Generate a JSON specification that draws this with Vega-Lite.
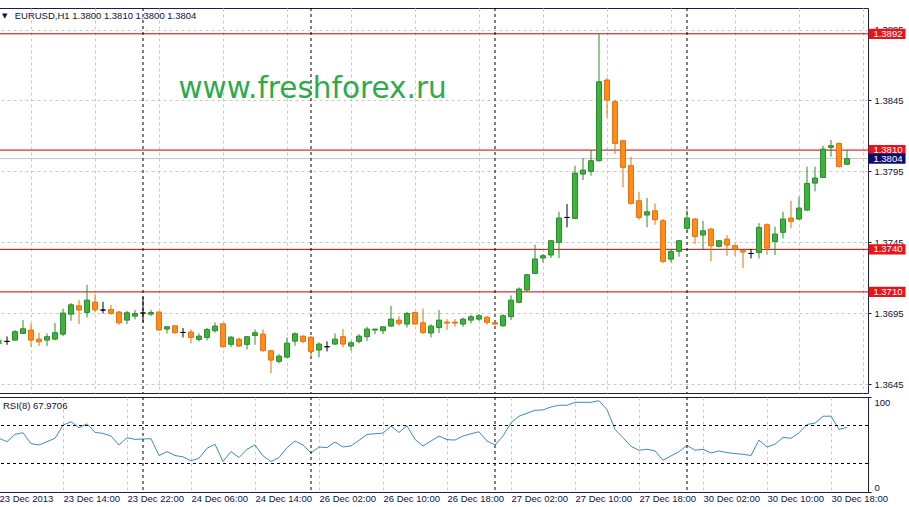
{
  "$schema": "https://vega.github.io/schema/vega-lite/v6.json",
  "padding": {"left": -2, "top": 7, "right": 0, "bottom": 0},
  "background": "white",
  "spacing": 2,
  "config": {
    "view": {"stroke": "#1c1c50", "strokeWidth": 1},
    "axis": {
      "labelFont": "Liberation Sans",
      "labelFontSize": 9.5,
      "labelColor": "#101040",
      "labelOverlap": false,
      "domain": false,
      "tickColor": "#101040",
      "tickSize": 3,
      "gridColor": "#c8c8c8",
      "gridDash": [3, 3],
      "gridWidth": 1,
      "title": null
    }
  },
  "datasets": {
    "bars": [
      {"k":0,"o":1.36732,"h":1.36770,"l":1.36713,"c":1.36763,"rsi":56.5},
      {"k":1,"o":1.36751,"h":1.36786,"l":1.36727,"c":1.36751,"rsi":53.0},
      {"k":2,"o":1.36760,"h":1.36831,"l":1.36756,"c":1.36819,"rsi":60.6},
      {"k":3,"o":1.36807,"h":1.36901,"l":1.36802,"c":1.36840,"rsi":62.4},
      {"k":4,"o":1.36831,"h":1.36878,"l":1.36713,"c":1.36760,"rsi":50.9},
      {"k":5,"o":1.36767,"h":1.36812,"l":1.36718,"c":1.36748,"rsi":49.5},
      {"k":6,"o":1.36760,"h":1.36807,"l":1.36718,"c":1.36784,"rsi":53.0},
      {"k":7,"o":1.36767,"h":1.36880,"l":1.36760,"c":1.36812,"rsi":56.5},
      {"k":8,"o":1.36802,"h":1.36983,"l":1.36788,"c":1.36951,"rsi":70.4},
      {"k":9,"o":1.36943,"h":1.37021,"l":1.36896,"c":1.37009,"rsi":73.9},
      {"k":10,"o":1.37002,"h":1.37042,"l":1.36873,"c":1.36972,"rsi":67.6},
      {"k":11,"o":1.36955,"h":1.37150,"l":1.36920,"c":1.37042,"rsi":71.8},
      {"k":12,"o":1.37028,"h":1.37084,"l":1.36955,"c":1.36974,"rsi":62.7},
      {"k":13,"o":1.36972,"h":1.37030,"l":1.36948,"c":1.36972,"rsi":61.7},
      {"k":14,"o":1.36976,"h":1.37007,"l":1.36941,"c":1.36948,"rsi":58.9},
      {"k":15,"o":1.36958,"h":1.36967,"l":1.36868,"c":1.36882,"rsi":49.5},
      {"k":16,"o":1.36901,"h":1.36967,"l":1.36873,"c":1.36953,"rsi":57.1},
      {"k":17,"o":1.36929,"h":1.36972,"l":1.36906,"c":1.36948,"rsi":55.4},
      {"k":18,"o":1.36951,"h":1.37066,"l":1.36885,"c":1.36951,"rsi":55.8},
      {"k":19,"o":1.36943,"h":1.36974,"l":1.36929,"c":1.36955,"rsi":56.1},
      {"k":20,"o":1.36958,"h":1.36962,"l":1.36826,"c":1.36831,"rsi":38.4},
      {"k":21,"o":1.36838,"h":1.36859,"l":1.36807,"c":1.36854,"rsi":42.5},
      {"k":22,"o":1.36861,"h":1.36861,"l":1.36807,"c":1.36812,"rsi":38.4},
      {"k":23,"o":1.36814,"h":1.36845,"l":1.36779,"c":1.36814,"rsi":37.0},
      {"k":24,"o":1.36817,"h":1.36835,"l":1.36737,"c":1.36779,"rsi":32.8},
      {"k":25,"o":1.36765,"h":1.36807,"l":1.36751,"c":1.36788,"rsi":35.6},
      {"k":26,"o":1.36779,"h":1.36845,"l":1.36758,"c":1.36835,"rsi":46.0},
      {"k":27,"o":1.36826,"h":1.36885,"l":1.36812,"c":1.36859,"rsi":50.2},
      {"k":28,"o":1.36875,"h":1.36878,"l":1.36708,"c":1.36713,"rsi":32.1},
      {"k":29,"o":1.36730,"h":1.36788,"l":1.36711,"c":1.36781,"rsi":42.5},
      {"k":30,"o":1.36767,"h":1.36779,"l":1.36713,"c":1.36718,"rsi":36.3},
      {"k":31,"o":1.36730,"h":1.36788,"l":1.36694,"c":1.36784,"rsi":45.0},
      {"k":32,"o":1.36793,"h":1.36835,"l":1.36727,"c":1.36812,"rsi":49.5},
      {"k":33,"o":1.36802,"h":1.36835,"l":1.36678,"c":1.36685,"rsi":38.0},
      {"k":34,"o":1.36685,"h":1.36690,"l":1.36525,"c":1.36619,"rsi":32.1},
      {"k":35,"o":1.36610,"h":1.36661,"l":1.36596,"c":1.36647,"rsi":36.3},
      {"k":36,"o":1.36640,"h":1.36779,"l":1.36633,"c":1.36739,"rsi":46.7},
      {"k":37,"o":1.36753,"h":1.36814,"l":1.36720,"c":1.36805,"rsi":53.7},
      {"k":38,"o":1.36788,"h":1.36793,"l":1.36737,"c":1.36751,"rsi":49.5},
      {"k":39,"o":1.36781,"h":1.36788,"l":1.36633,"c":1.36680,"rsi":41.1},
      {"k":40,"o":1.36690,"h":1.36744,"l":1.36638,"c":1.36732,"rsi":47.4},
      {"k":41,"o":1.36713,"h":1.36751,"l":1.36680,"c":1.36713,"rsi":46.7},
      {"k":42,"o":1.36732,"h":1.36807,"l":1.36727,"c":1.36767,"rsi":52.6},
      {"k":43,"o":1.36784,"h":1.36838,"l":1.36708,"c":1.36732,"rsi":47.4},
      {"k":44,"o":1.36718,"h":1.36755,"l":1.36685,"c":1.36741,"rsi":48.5},
      {"k":45,"o":1.36751,"h":1.36802,"l":1.36737,"c":1.36788,"rsi":54.4},
      {"k":46,"o":1.36784,"h":1.36854,"l":1.36755,"c":1.36838,"rsi":60.6},
      {"k":47,"o":1.36831,"h":1.36838,"l":1.36802,"c":1.36838,"rsi":61.3},
      {"k":48,"o":1.36826,"h":1.36854,"l":1.36802,"c":1.36854,"rsi":62.0},
      {"k":49,"o":1.36859,"h":1.37002,"l":1.36854,"c":1.36908,"rsi":69.3},
      {"k":50,"o":1.36901,"h":1.36929,"l":1.36861,"c":1.36878,"rsi":62.7},
      {"k":51,"o":1.36873,"h":1.36960,"l":1.36849,"c":1.36948,"rsi":69.7},
      {"k":52,"o":1.36955,"h":1.36960,"l":1.36868,"c":1.36873,"rsi":55.4},
      {"k":53,"o":1.36882,"h":1.36983,"l":1.36802,"c":1.36814,"rsi":48.5},
      {"k":54,"o":1.36810,"h":1.36873,"l":1.36779,"c":1.36859,"rsi":53.7},
      {"k":55,"o":1.36849,"h":1.36972,"l":1.36810,"c":1.36901,"rsi":58.9},
      {"k":56,"o":1.36887,"h":1.36908,"l":1.36831,"c":1.36880,"rsi":55.1},
      {"k":57,"o":1.36887,"h":1.36908,"l":1.36854,"c":1.36880,"rsi":54.7},
      {"k":58,"o":1.36873,"h":1.36920,"l":1.36854,"c":1.36908,"rsi":58.9},
      {"k":59,"o":1.36901,"h":1.36936,"l":1.36878,"c":1.36925,"rsi":61.3},
      {"k":60,"o":1.36908,"h":1.36943,"l":1.36896,"c":1.36932,"rsi":63.4},
      {"k":61,"o":1.36922,"h":1.36927,"l":1.36868,"c":1.36885,"rsi":53.7},
      {"k":62,"o":1.36882,"h":1.36896,"l":1.36868,"c":1.36873,"rsi":49.5},
      {"k":63,"o":1.36861,"h":1.36943,"l":1.36854,"c":1.36932,"rsi":58.9},
      {"k":64,"o":1.36925,"h":1.37075,"l":1.36901,"c":1.37042,"rsi":72.8},
      {"k":65,"o":1.37026,"h":1.37131,"l":1.37019,"c":1.37120,"rsi":79.8},
      {"k":66,"o":1.37113,"h":1.37226,"l":1.37108,"c":1.37221,"rsi":82.9},
      {"k":67,"o":1.37230,"h":1.37433,"l":1.37230,"c":1.37332,"rsi":86.0},
      {"k":68,"o":1.37339,"h":1.37367,"l":1.37308,"c":1.37355,"rsi":86.4},
      {"k":69,"o":1.37360,"h":1.37466,"l":1.37339,"c":1.37461,"rsi":89.5},
      {"k":70,"o":1.37449,"h":1.37665,"l":1.37339,"c":1.37621,"rsi":91.3},
      {"k":71,"o":1.37625,"h":1.37719,"l":1.37555,"c":1.37625,"rsi":91.3},
      {"k":72,"o":1.37618,"h":1.37990,"l":1.37618,"c":1.37938,"rsi":94.4},
      {"k":73,"o":1.37931,"h":1.38044,"l":1.37889,"c":1.37959,"rsi":94.4},
      {"k":74,"o":1.37950,"h":1.38100,"l":1.37919,"c":1.38025,"rsi":94.4},
      {"k":75,"o":1.38025,"h":1.38920,"l":1.38020,"c":1.38582,"rsi":96.1},
      {"k":76,"o":1.38594,"h":1.38608,"l":1.38331,"c":1.38453,"rsi":86.7},
      {"k":77,"o":1.38441,"h":1.38453,"l":1.38072,"c":1.38147,"rsi":65.9},
      {"k":78,"o":1.38166,"h":1.38171,"l":1.37837,"c":1.37978,"rsi":57.1},
      {"k":79,"o":1.37990,"h":1.38053,"l":1.37715,"c":1.37724,"rsi":48.1},
      {"k":80,"o":1.37743,"h":1.37806,"l":1.37609,"c":1.37625,"rsi":43.9},
      {"k":81,"o":1.37642,"h":1.37762,"l":1.37555,"c":1.37665,"rsi":45.0},
      {"k":82,"o":1.37672,"h":1.37724,"l":1.37574,"c":1.37609,"rsi":43.2},
      {"k":83,"o":1.37602,"h":1.37614,"l":1.37301,"c":1.37315,"rsi":33.5},
      {"k":84,"o":1.37331,"h":1.37402,"l":1.37308,"c":1.37386,"rsi":38.0},
      {"k":85,"o":1.37386,"h":1.37465,"l":1.37348,"c":1.37461,"rsi":42.5},
      {"k":86,"o":1.37548,"h":1.37679,"l":1.37520,"c":1.37621,"rsi":49.1},
      {"k":87,"o":1.37614,"h":1.37621,"l":1.37437,"c":1.37491,"rsi":43.9},
      {"k":88,"o":1.37501,"h":1.37602,"l":1.37402,"c":1.37531,"rsi":45.0},
      {"k":89,"o":1.37543,"h":1.37550,"l":1.37315,"c":1.37426,"rsi":41.1},
      {"k":90,"o":1.37421,"h":1.37465,"l":1.37414,"c":1.37461,"rsi":43.2},
      {"k":91,"o":1.37472,"h":1.37501,"l":1.37355,"c":1.37430,"rsi":41.5},
      {"k":92,"o":1.37426,"h":1.37437,"l":1.37355,"c":1.37402,"rsi":40.4},
      {"k":93,"o":1.37390,"h":1.37390,"l":1.37268,"c":1.37381,"rsi":39.7},
      {"k":94,"o":1.37371,"h":1.37402,"l":1.37336,"c":1.37371,"rsi":38.4},
      {"k":95,"o":1.37378,"h":1.37585,"l":1.37336,"c":1.37555,"rsi":54.7},
      {"k":96,"o":1.37574,"h":1.37583,"l":1.37360,"c":1.37409,"rsi":47.4},
      {"k":97,"o":1.37456,"h":1.37560,"l":1.37360,"c":1.37508,"rsi":50.2},
      {"k":98,"o":1.37520,"h":1.37665,"l":1.37477,"c":1.37614,"rsi":57.5},
      {"k":99,"o":1.37621,"h":1.37743,"l":1.37548,"c":1.37597,"rsi":56.5},
      {"k":100,"o":1.37614,"h":1.37771,"l":1.37607,"c":1.37691,"rsi":62.4},
      {"k":101,"o":1.37677,"h":1.37983,"l":1.37672,"c":1.37865,"rsi":71.1},
      {"k":102,"o":1.37867,"h":1.37983,"l":1.37809,"c":1.37903,"rsi":72.5},
      {"k":103,"o":1.37907,"h":1.38131,"l":1.37903,"c":1.38107,"rsi":79.8},
      {"k":104,"o":1.38119,"h":1.38171,"l":1.38053,"c":1.38131,"rsi":79.8},
      {"k":105,"o":1.38147,"h":1.38154,"l":1.37978,"c":1.37983,"rsi":65.9},
      {"k":106,"o":1.38000,"h":1.38100,"l":1.38000,"c":1.38040,"rsi":67.97}
    ],
    "levels": [{"p": 1.3892}, {"p": 1.3810}, {"p": 1.3740}, {"p": 1.3710}],
    "bid": [{"p": 1.3804}],
    "seps": [{"k": 18}, {"k": 39}, {"k": 62}, {"k": 86}],
    "rsilevels": [{"v": 70}, {"v": 30}],
    "one": [{}]
  },
  "vconcat": [
    {
      "width": 869,
      "height": 385,
      "layer": [
        {
          "data": {"name": "bid"},
          "mark": {"type": "rule", "color": "#c4c4c4", "strokeWidth": 1},
          "encoding": {
            "y": {
              "field": "p", "type": "quantitative",
              "scale": {"domain": [1.36387, 1.39102], "nice": false, "zero": false},
              "axis": {
                "orient": "right",
                "values": [1.3645, 1.3670, 1.3695, 1.3720, 1.3745, 1.3770, 1.3795, 1.3820, 1.3845, 1.3870, 1.3895],
                "format": ".4f",
                "grid": true,
                "labelPadding": 3
              }
            }
          }
        },
        {
          "data": {"name": "levels"},
          "mark": {"type": "rule", "color": "#c80000", "strokeWidth": 1},
          "encoding": {"y": {"field": "p", "type": "quantitative"}}
        },
        {
          "data": {"name": "seps"},
          "mark": {"type": "rule", "color": "#000000", "strokeWidth": 1, "strokeDash": [3, 3]},
          "encoding": {
            "x": {
              "field": "k", "type": "quantitative",
              "scale": {"domain": [0, 108.625], "nice": false, "zero": false, "padding": 0},
              "axis": {
                "grid": true,
                "values": [4, 8, 12, 16, 20, 24, 28, 32, 36, 40, 44, 48, 52, 56, 60, 64, 68, 72, 76, 80, 84, 88, 92, 96, 100, 104, 108],
                "labels": false, "ticks": false, "domain": false,
                "minExtent": 0, "maxExtent": 0, "offset": 0
              }
            }
          }
        },
        {
          "data": {"name": "one"},
          "mark": {"type": "text", "text": "www.freshforex.ru", "font": "DejaVu Sans", "fontSize": 29.5, "color": "#2eaa4a", "align": "center", "baseline": "alphabetic"},
          "encoding": {
            "x": {"datum": 39.2, "type": "quantitative"},
            "y": {"datum": 1.3847, "type": "quantitative"}
          }
        },
        {
          "data": {"name": "one"},
          "mark": {"type": "text", "text": "▼", "font": "DejaVu Sans", "fontSize": 7, "color": "#101040", "align": "center", "baseline": "middle"},
          "encoding": {
            "x": {"datum": 0.7, "type": "quantitative"},
            "y": {"datum": 1.39045, "type": "quantitative"}
          }
        },
        {
          "data": {"name": "one"},
          "mark": {"type": "text", "text": "EURUSD,H1  1.3800 1.3810 1.3800 1.3804", "font": "Liberation Sans", "fontSize": 9.5, "color": "#101040", "align": "left", "baseline": "middle"},
          "encoding": {
            "x": {"datum": 1.96, "type": "quantitative"},
            "y": {"datum": 1.39045, "type": "quantitative"}
          }
        },
        {
          "data": {"name": "bars"},
          "transform": [{"filter": "datum.k > 0"}],
          "mark": {"type": "rule", "strokeWidth": 1, "clip": true},
          "encoding": {
            "x": {"field": "k", "type": "quantitative"},
            "y": {"field": "l", "type": "quantitative"},
            "y2": {"field": "h"},
            "color": {
              "condition": [
                {"test": "datum.c > datum.o", "value": "#2e8b2e"},
                {"test": "datum.c < datum.o", "value": "#e0740f"}
              ],
              "value": "#000000"
            }
          }
        },
        {
          "data": {"name": "bars"},
          "transform": [{"filter": "datum.k > 0"}],
          "mark": {"type": "bar", "width": 5, "strokeWidth": 1, "clip": true},
          "encoding": {
            "x": {"field": "k", "type": "quantitative"},
            "y": {"field": "o", "type": "quantitative"},
            "y2": {"field": "c"},
            "fill": {
              "condition": [
                {"test": "datum.c > datum.o", "value": "#3cb43c"},
                {"test": "datum.c < datum.o", "value": "#ff8c1a"}
              ],
              "value": "#000000"
            },
            "stroke": {
              "condition": [
                {"test": "datum.c > datum.o", "value": "#2e8b2e"},
                {"test": "datum.c < datum.o", "value": "#e0740f"}
              ],
              "value": "#000000"
            }
          }
        },
        {
          "data": {"name": "bars"},
          "transform": [{"filter": "datum.k == 0"}],
          "mark": {"type": "rect", "strokeWidth": 0, "fill": "#3cb43c"},
          "encoding": {
            "x": {"field": "k", "type": "quantitative"},
            "x2": {"datum": 0.32},
            "y": {"field": "o", "type": "quantitative"},
            "y2": {"field": "c"}
          }
        },
        {
          "data": {"name": "levels"},
          "mark": {"type": "point", "shape": "M-1,-0.28L1,-0.28L1,0.28L-1,0.28Z", "size": 1369, "filled": true, "color": "#e8141c", "opacity": 1, "strokeWidth": 0},
          "encoding": {
            "x": {"datum": 111.0, "type": "quantitative"},
            "y": {"field": "p", "type": "quantitative"}
          }
        },
        {
          "data": {"name": "levels"},
          "mark": {"type": "text", "color": "#ffffff", "align": "left", "baseline": "middle", "font": "Liberation Sans", "fontSize": 9.5},
          "encoding": {
            "x": {"datum": 109.3, "type": "quantitative"},
            "y": {"field": "p", "type": "quantitative"},
            "text": {"field": "p", "type": "quantitative", "format": ".4f"}
          }
        },
        {
          "data": {"name": "bid"},
          "mark": {"type": "point", "shape": "M-1,-0.28L1,-0.28L1,0.28L-1,0.28Z", "size": 1369, "filled": true, "color": "#0c0c70", "opacity": 1, "strokeWidth": 0},
          "encoding": {
            "x": {"datum": 111.0, "type": "quantitative"},
            "y": {"field": "p", "type": "quantitative"}
          }
        },
        {
          "data": {"name": "bid"},
          "mark": {"type": "text", "color": "#ffffff", "align": "left", "baseline": "middle", "font": "Liberation Sans", "fontSize": 9.5},
          "encoding": {
            "x": {"datum": 109.3, "type": "quantitative"},
            "y": {"field": "p", "type": "quantitative"},
            "text": {"field": "p", "type": "quantitative", "format": ".4f"}
          }
        }
      ]
    },
    {
      "width": 869,
      "height": 95,
      "layer": [
        {
          "data": {"name": "bars"},
          "mark": {"type": "line", "color": "#3a8cc6", "strokeWidth": 1, "clip": true},
          "encoding": {
            "x": {
              "field": "k", "type": "quantitative",
              "scale": {"domain": [0, 108.625], "nice": false, "zero": false, "padding": 0},
              "axis": {
                "grid": true,
                "values": [0, 4, 8, 12, 16, 20, 24, 28, 32, 36, 40, 44, 48, 52, 56, 60, 64, 68, 72, 76, 80, 84, 88, 92, 96, 100, 104, 108],
                "ticks": false, "domain": false,
                "gridOpacity": {"expr": "datum.value == 0 ? 0 : 1"},
                "labelAlign": "left", "labelPadding": 1, "labelBound": false, "labelFlush": false,
                "labelExpr": "datum.value % 8 == 0 && datum.value <= 104 ? ['23 Dec 2013','23 Dec 14:00','23 Dec 22:00','24 Dec 06:00','24 Dec 14:00','26 Dec 02:00','26 Dec 10:00','26 Dec 18:00','27 Dec 02:00','27 Dec 10:00','27 Dec 18:00','30 Dec 02:00','30 Dec 10:00','30 Dec 18:00'][datum.value / 8] : ''"
              }
            },
            "y": {
              "field": "rsi", "type": "quantitative",
              "scale": {"domain": [0, 100], "nice": false, "zero": false},
              "axis": {"orient": "right", "values": [0, 30, 70, 100], "grid": false, "labelFlush": true, "labelPadding": 3}
            }
          }
        },
        {
          "data": {"name": "rsilevels"},
          "mark": {"type": "rule", "color": "#000000", "strokeWidth": 1, "strokeDash": [3, 3]},
          "encoding": {"y": {"field": "v", "type": "quantitative"}}
        },
        {
          "data": {"name": "seps"},
          "mark": {"type": "rule", "color": "#000000", "strokeWidth": 1, "strokeDash": [3, 3]},
          "encoding": {"x": {"field": "k", "type": "quantitative"}}
        },
        {
          "data": {"name": "one"},
          "mark": {"type": "text", "text": "RSI(8) 67.9706", "font": "Liberation Sans", "fontSize": 9.5, "color": "#101040", "align": "left", "baseline": "middle"},
          "encoding": {
            "x": {"datum": 0.5, "type": "quantitative"},
            "y": {"datum": 91, "type": "quantitative"}
          }
        }
      ]
    }
  ]
}
